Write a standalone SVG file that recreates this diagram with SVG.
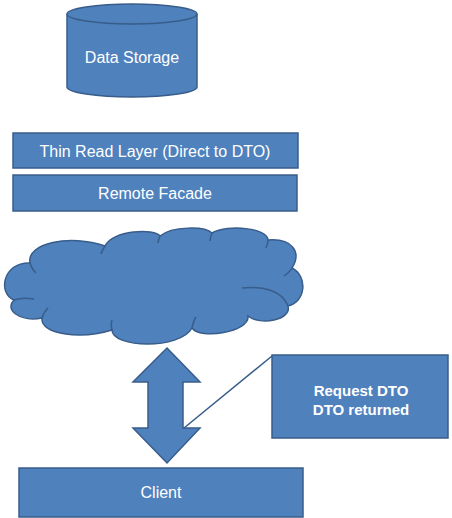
<svg xmlns="http://www.w3.org/2000/svg" width="452" height="518" viewBox="0 0 452 518">
<style>
.s{fill:#4F81BD;stroke:#385D8A;stroke-width:1.5}
.t{fill:#fff;font-family:"Liberation Sans",Arial,sans-serif;font-size:16px;text-anchor:middle}
.b{font-weight:bold;font-size:15px}
.ln{fill:none;stroke:#385D8A;stroke-width:1.5}
</style>
<rect width="452" height="518" fill="#fff"/>
<g id="data-storage">
<path class="s" d="M67 14 A65 10 0 0 1 197 14 L197 87 A65 10 0 0 1 67 87 Z"/>
<path class="ln" d="M67 14 A65 10 0 0 0 197 14"/>
<text class="t" x="132" y="63">Data Storage</text>
</g>
<g id="thin-read-layer">
<rect class="s" x="13" y="133" width="285" height="35"/>
<text class="t" x="155" y="157">Thin Read Layer (Direct to DTO)</text>
</g>
<g id="remote-facade">
<rect class="s" x="13" y="175" width="284" height="36"/>
<text class="t" x="155" y="199">Remote Facade</text>
</g>
<g id="cloud">
<path class="s" d="M14 300 C-2 294 2 262 30 263 C26 243 70 234 105 246 C112 230 155 228 160 236 C172 226 205 226 212 233 C228 224 268 228 268 240 C292 238 302 252 292 268 C308 276 306 302 288 306 C292 320 260 326 248 316 C250 332 200 340 192 328 C180 350 112 348 112 330 C80 340 40 334 42 318 C20 322 4 310 14 300 Z"/>
<path class="ln" d="M14 300 C20 298 28 298 34 299 M30 263 C31 267 33 270 36 273 M105 246 C103 249 102 251 101 254 M160 236 C159 239 158 241 158 243 M212 233 C211 236 210 238 210 241 M268 240 C268 243 267 246 266 248 M292 268 C290 272 287 274 284 276 M288 306 C282 290 262 286 242 288 M192 328 C193 323 194 320 196 317 M112 330 C111 326 111 323 112 320 M42 318 C43 314 45 311 48 308"/>
</g>
<g id="client">
<rect class="s" x="19" y="468" width="284" height="49"/>
<text class="t" x="161" y="498">Client</text>
</g>
<g id="connectors">
<path id="double-arrow" class="s" d="M167 348 L200 382 L183 382 L183 428 L200 428 L167 463 L133 428 L148 428 L148 382 L133 382 Z"/>
</g>
<g id="callout">
<rect class="s" x="272" y="355" width="176" height="83"/>
<line class="ln" x1="272" y1="356" x2="184" y2="428"/>
<text class="t b" x="361" y="396">Request DTO</text>
<text class="t b" x="361" y="415">DTO returned</text>
</g>
</svg>
